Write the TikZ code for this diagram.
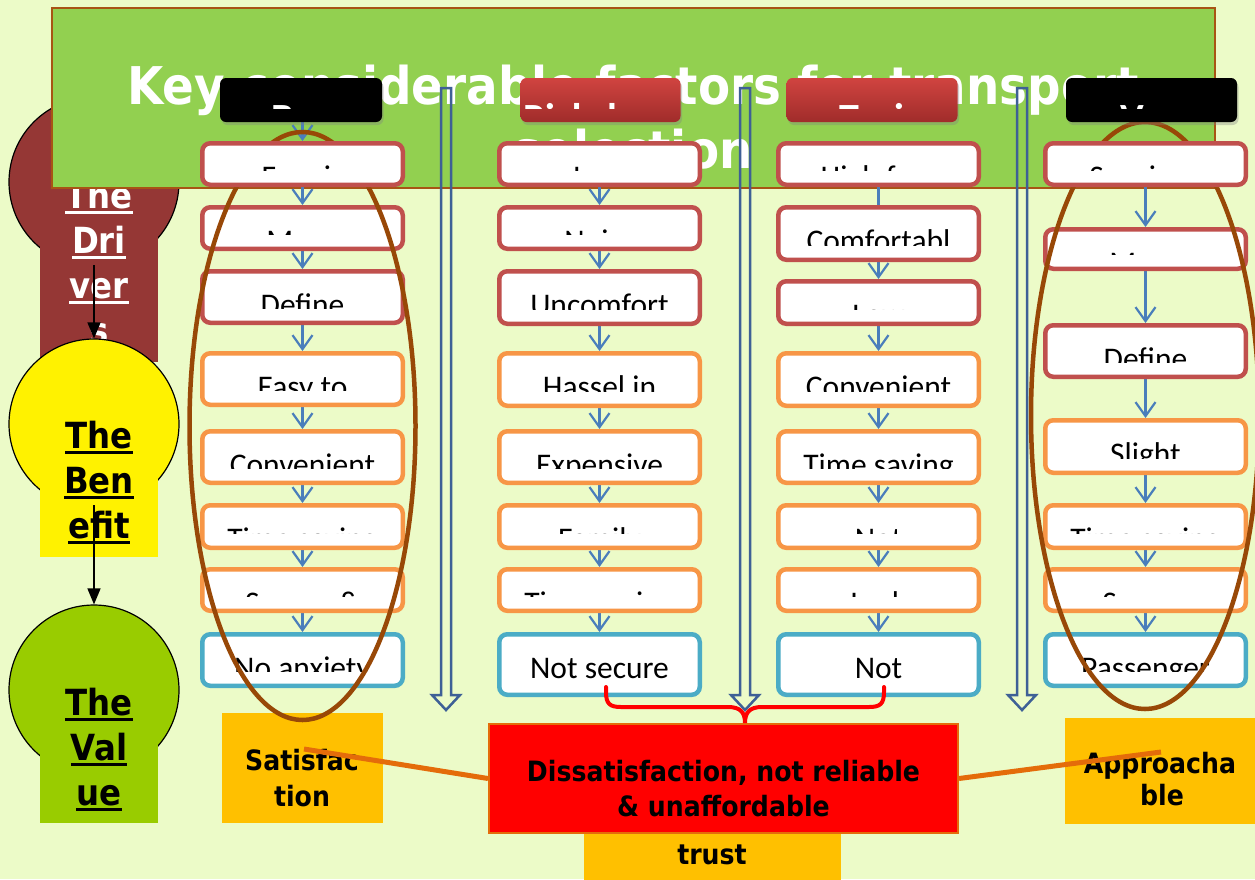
\documentclass[tikz,border=0pt]{standalone}
\usepackage{fontspec}
\setmainfont{Carlito}
\newfontfamily\boxfont{Carlito}
\newfontfamily\hdfont[FakeStretch=0.9]{DejaVu Sans Bold}
\usetikzlibrary{arrows.meta,shadows}
\pgfdeclarelayer{base}
\pgfdeclarelayer{links}
\pgfdeclarelayer{rings}
\pgfdeclarelayer{front}
\pgfsetlayers{base,links,main,rings,front}

\definecolor{bgc}{RGB}{236,251,200}
\definecolor{titlegreen}{RGB}{146,208,80}
\definecolor{titleedge}{RGB}{168,84,20}
\definecolor{drvbrown}{RGB}{149,55,53}
\definecolor{valgreen}{RGB}{153,204,0}
\definecolor{amber}{RGB}{255,192,0}
\definecolor{topred}{RGB}{192,80,77}
\definecolor{midorange}{RGB}{247,150,70}
\definecolor{lowblue}{RGB}{75,172,198}
\definecolor{arrowblue}{RGB}{74,126,187}
\definecolor{shaftblue}{RGB}{62,96,150}
\definecolor{ringbrown}{RGB}{152,72,7}
\definecolor{linkorange}{RGB}{228,108,10}
\definecolor{hdtop}{RGB}{208,68,64}
\definecolor{hdbot}{RGB}{160,44,42}

% underlined word with a thick rule
\newcommand\uln[1]{\setbox0\hbox{#1}\rlap{\rule[-6pt]{\wd0}{2.8pt}}\box0}

\tikzset{
  keycirc/.style={circle, draw=black, line width=1.2pt, minimum size=170pt, inner sep=0pt},
  keyrect/.style={rectangle, minimum width=118pt, inner sep=0pt},
  keytext/.style={anchor=base, inner sep=0pt, font=\hdfont\fontsize{36}{40}\selectfont},
  boldtext/.style={anchor=base, inner sep=0pt, font=\hdfont\fontsize{28}{34}\selectfont},
  fbox/.style={rectangle, rounded corners=8pt, fill=white, line width=4.5pt, minimum width=200.5pt, inner sep=0pt},
  ftext/.style={anchor=base, inner sep=0pt, font=\boxfont\fontsize{31.5}{36}\selectfont},
  hdbox/.style={rectangle, rounded corners=6pt, minimum height=44pt, inner sep=0pt,
    drop shadow={opacity=0.35, shadow xshift=1.5pt, shadow yshift=-3pt}},
  hdtext/.style={anchor=base, inner sep=0pt, text=white, font=\boxfont\bfseries\fontsize{40}{44}\selectfont},
  sarrow/.style={draw=arrowblue, line width=2.2pt, -{Straight Barb[length=14pt,width=20pt]}},
  sline/.style={draw=arrowblue, line width=2.2pt},
  shaft/.style={draw=shaftblue, line width=2.5pt, line join=miter},
  ring/.style={draw=ringbrown, line width=4.5pt},
  karrow/.style={draw=black, line width=1.5pt, -{Triangle[length=16pt,width=13pt]}},
  link/.style={draw=linkorange, line width=5pt},
  brace/.style={draw=red, line width=4pt, line cap=round},
  ambox/.style={rectangle, fill=amber, inner sep=0pt},
}

% factor box: name, centre x, top, bottom, frame colour, first text line
\newcommand\fbx[6]{%
  \pgfmathsetmacro\fbh{#4-#3-4.5}%
  \node[fbox, draw=#5, minimum height=\fbh pt] (#1) at (#2,{(#3+#4)/2}) {};
  \begin{scope}
    \clip (#2-100,#3) rectangle (#2+100,#4-16.5);
    \node[ftext] (#1t) at (#2,#3+46.5) {#6};
  \end{scope}}

% mode header: name, centre x, width, fill options, text
\newcommand\hdr[5]{%
  \node[hdbox, #4, minimum width=#3 pt] (#1) at (#2,100) {};
  \begin{scope}
    \clip (#2-#3/2,78) rectangle (#2+#3/2,108.5);
    \node[hdtext] (#1t) at (#2,131) {#5};
  \end{scope}}

\begin{document}
\begin{tikzpicture}[x=1pt,y=-1pt]
\useasboundingbox (0,0) rectangle (1255,879);

\begin{pgfonlayer}{base}
\fill[bgc] (0,0) rectangle (1255,879);

% drivers / benefit / value keyholes
\node[keycirc, fill=drvbrown] (drv) at (94,182) {};
\node[keyrect, fill=drvbrown, minimum height=180pt] (drvr) at (99,272) {};
\node[keytext, text=white] (drv1) at (99,208) {\uln{The}};
\node[keytext, text=white] (drv2) at (99,253) {\uln{Dri}};
\node[keytext, text=white] (drv3) at (99,298) {\uln{ver}};
\node[keytext, text=white] (drv4) at (99,343) {\uln{s}};

\node[keycirc, fill=yellow] (ben) at (94,424) {};
\node[keyrect, fill=yellow, minimum height=133pt] (benr) at (99,490.5) {};
\node[keytext] (ben1) at (99,448) {\uln{The}};
\node[keytext] (ben2) at (99,493) {\uln{Ben}};
\node[keytext] (ben3) at (99,538) {\uln{efit}};

\node[keycirc, fill=valgreen] (val) at (94,690) {};
\node[keyrect, fill=valgreen, minimum height=133pt] (valr) at (99,756.5) {};
\node[keytext] (val1) at (99,715) {\uln{The}};
\node[keytext] (val2) at (99,760) {\uln{Val}};
\node[keytext] (val3) at (99,805) {\uln{ue}};

\coordinate (drvA) at (94,265);
\coordinate (benA) at (94,505);
\draw[karrow] (drvA) -- (ben.north);
\draw[karrow] (benA) -- (val.north);

% title banner
\node[rectangle, draw=titleedge, fill=titlegreen, line width=1.5pt, minimum width=1163pt,
      minimum height=180pt, inner sep=0pt] (title) at (633.5,98) {};
\node[anchor=base, inner sep=0pt, text=white, font=\hdfont\fontsize{52}{56}\selectfont]
      (title1) at (633,104) {Key considerable factors for transport};
\node[anchor=base, inner sep=0pt, text=white, font=\hdfont\fontsize{52}{56}\selectfont]
      (title2) at (633,168) {selection};

% hollow separators between the columns
\foreach \cx in {446,745,1022}
  \draw[shaft] (\cx-5,88) -- (\cx+5,88) -- (\cx+5,695) -- (\cx+14,695) -- (\cx,710)
               -- (\cx-14,695) -- (\cx-5,695) -- cycle;

% outcome boxes
\node[ambox, minimum width=161pt, minimum height=110pt] (sat) at (302.5,768) {};
\node[boldtext] (sat1) at (302,770) {Satisfac};
\node[boldtext] (sat2) at (302,806) {tion};

\node[ambox, minimum width=257pt, minimum height=70pt] (trust) at (712.5,850) {};
\node[boldtext] (trust1) at (712,864) {trust};

\node[rectangle, fill=red, draw=linkorange, line width=2pt, minimum width=469pt,
      minimum height=109pt, inner sep=0pt] (red) at (723.5,778.5) {};
\node[boldtext] (red1) at (723.5,781) {Dissatisfaction, not reliable};
\node[boldtext] (red2) at (723.5,816) {\& unaffordable};

\node[ambox, minimum width=190pt, minimum height=106pt] (app) at (1160,771) {};
\node[boldtext] (app1) at (1160,773) {Approacha};
\node[boldtext] (app2) at (1162,805) {ble};

\coordinate (satpt) at (304,749);
\coordinate (apppt) at (1161,752);
\draw[link] (satpt) -- (red.west);
\draw[link] (red.east) -- (apppt);
\end{pgfonlayer}

% factor boxes
\fbx{a2}{302.5}{205}{251}{topred}{Many}
\fbx{a3}{302.5}{269}{325}{topred}{Define}
\fbx{a4}{302.5}{351}{407}{midorange}{Easy to}
\fbx{a5}{302.5}{429}{485}{midorange}{Convenient}
\fbx{a6}{302.5}{503}{550}{midorange}{Time saving}
\fbx{a7}{302.5}{567}{613}{midorange}{Secure \&}
\fbx{a8}{302.5}{632}{688}{lowblue}{No anxiety}

\fbx{b1}{599.5}{141}{187}{topred}{Low}
\fbx{b2}{599.5}{205}{251}{topred}{Noisy}
\fbx{b3}{599.5}{269}{326}{topred}{Uncomfort}
\fbx{b4}{599.5}{351}{408}{midorange}{Hassel in}
\fbx{b5}{599.5}{429}{485}{midorange}{Expensive}
\fbx{b6}{599.5}{503}{550}{midorange}{Family}
\fbx{b7}{599.5}{567}{613}{midorange}{Time saving}
\fbx{b8}{599.5}{632}{697}{lowblue}{Not secure}

\fbx{c1}{878.5}{141}{187}{topred}{High fare}
\fbx{c2}{878.5}{205}{262}{topred}{Comfortabl}
\fbx{c3}{878.5}{279}{326}{topred}{Low}
\fbx{c4}{878.5}{351}{408}{midorange}{Convenient}
\fbx{c5}{878.5}{429}{485}{midorange}{Time saving}
\fbx{c6}{878.5}{503}{550}{midorange}{Not}
\fbx{c7}{878.5}{567}{613}{midorange}{Lack}
\fbx{c8}{878.5}{632}{697}{lowblue}{Not}

\fbx{d2}{1145.5}{227}{271}{topred}{Many}
\fbx{d3}{1145.5}{323}{379}{topred}{Define}
\fbx{d4}{1145.5}{418}{475}{midorange}{Slight}
\fbx{d5}{1145.5}{503}{550}{midorange}{Time saving}
\fbx{d6}{1145.5}{567}{613}{midorange}{Secure}
\fbx{d7}{1145.5}{632}{688}{lowblue}{Passenger}

\begin{pgfonlayer}{front}
\fbx{a1}{302.5}{141}{187}{topred}{Fare is}
\fbx{d1}{1145.5}{141}{187}{topred}{Spacious}

\hdr{h1}{301}{162}{fill=black}{Bus}
\hdr{h2}{600.5}{160}{top color=hdtop, bottom color=hdbot}{Rickshaw}
\hdr{h3}{872}{171}{top color=hdtop, bottom color=hdbot}{Taxi}
\hdr{h4}{1151.5}{171}{fill=black}{Van}

% brace gathering the two unreliable modes
\coordinate (bl) at (606,687);
\coordinate (br) at (884,687);
\coordinate (bt) at (745,723);
\draw[brace] (bl) -- (606,692) .. controls (606,704) and (610,707) .. (621,707) -- (728,707)
  .. controls (740,707) and (745,712) .. (bt)
  .. controls (745,712) and (750,707) .. (762,707) -- (869,707)
  .. controls (880,707) and (884,704) .. (884,692) -- (br);
\end{pgfonlayer}

% step arrows inside each column
\begin{pgfonlayer}{links}
\draw[sarrow] (h1.south -| a1) -- (a1.north);
\foreach \p/\q in {a1/a2,a2/a3,a3/a4,a4/a5,a5/a6,a6/a7,a7/a8,
                   b1/b2,b2/b3,b3/b4,b4/b5,b5/b6,b6/b7,b7/b8,
                   c2/c3,c3/c4,c4/c5,c5/c6,c6/c7,c7/c8,
                   d1/d2,d2/d3,d3/d4,d4/d5,d5/d6,d6/d7}
  \draw[sarrow] (\p) -- (\q);
\draw[sline] (c1) -- (c2);
\end{pgfonlayer}

% grouping rings
\begin{pgfonlayer}{rings}
\draw[ring] (302.5,426) ellipse [x radius=113, y radius=294];
\draw[ring] (1145,415.5) ellipse [x radius=114, y radius=293.5];
\end{pgfonlayer}
\end{tikzpicture}
\end{document}
